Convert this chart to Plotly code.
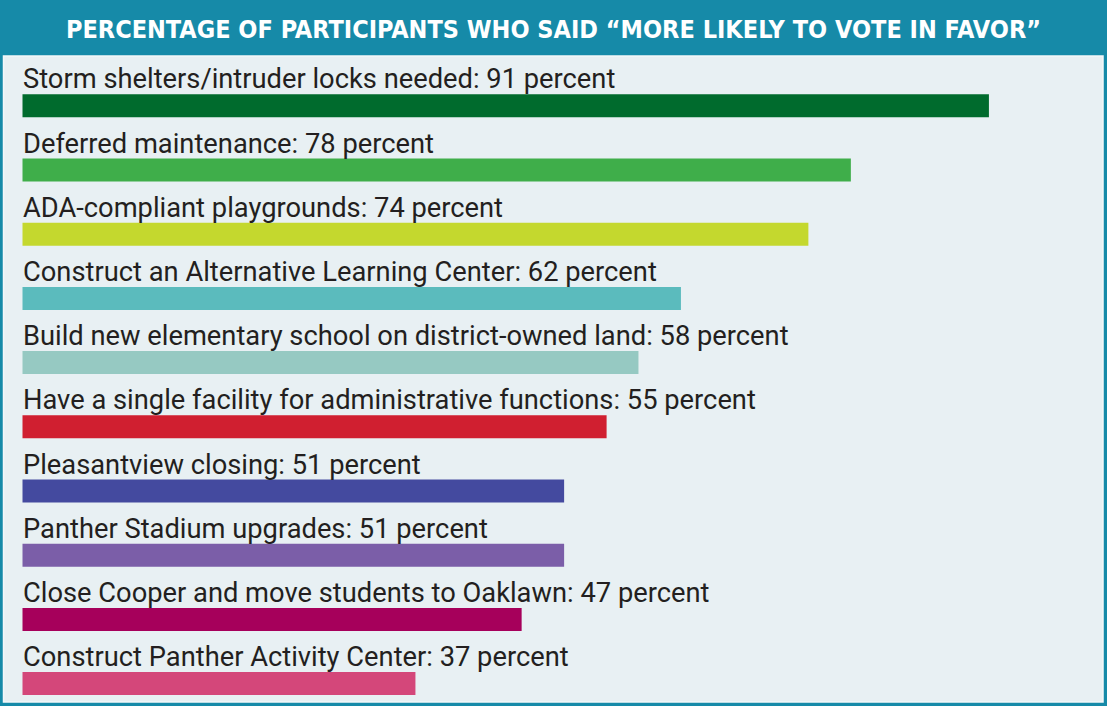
import plotly.graph_objects as go

categories = [
    "Storm shelters/intruder locks needed",
    "Deferred maintenance",
    "ADA-compliant playgrounds",
    "Construct an Alternative Learning Center",
    "Build new elementary school on district-owned land",
    "Have a single facility for administrative functions",
    "Pleasantview closing",
    "Panther Stadium upgrades",
    "Close Cooper and move students to Oaklawn",
    "Construct Panther Activity Center",
]
percents = [91, 78, 74, 62, 58, 55, 51, 51, 47, 37]
bar_colors = ["#006b2d", "#3fae4a", "#c4d82e", "#5bbbbd", "#96c9c2",
              "#d01f30", "#444a9f", "#7b5ea8", "#a6005b", "#d4477a"]
title_text = "PERCENTAGE OF PARTICIPANTS WHO SAID \u201cMORE LIKELY TO VOTE IN FAVOR\u201d"

W, H = 1107, 706
px_per_unit = 10.62
x0_px = 22.5
row_px = 64.2
first_center_px = 105.8
bar_h_px = 23

idx = list(range(len(categories)))

x_min = -x0_px / px_per_unit
x_max = (W - x0_px) / px_per_unit
y_top = -first_center_px / row_px
y_bot = (H - first_center_px) / row_px

fig = go.Figure()
fig.add_trace(go.Bar(
    x=percents, y=idx, orientation="h",
    marker=dict(color=bar_colors, line=dict(width=0)),
    width=bar_h_px / row_px,
    hoverinfo="skip",
))

annotations = []
for i, (c, p) in enumerate(zip(categories, percents)):
    annotations.append(dict(
        x=0, y=i, xref="x", yref="y", xanchor="left", yanchor="bottom",
        text=f"{c}: {p} percent", showarrow=False,
        font=dict(family="Roboto, Arial, sans-serif", size=27.3, color="#231f20"),
        yshift=bar_h_px / 2 - 3, xshift=-2,
    ))
annotations.append(dict(
    x=0.5, y=1 - 30 / H, xref="paper", yref="paper", xanchor="center", yanchor="middle",
    text=f"<b>{title_text}</b>", showarrow=False,
    font=dict(family="DejaVu Sans Condensed, sans-serif", size=25, color="#ffffff"),
))

fig.update_layout(
    width=W, height=H,
    margin=dict(l=0, r=0, t=0, b=0),
    paper_bgcolor="#168aa8",
    plot_bgcolor="rgba(0,0,0,0)",
    showlegend=False,
    xaxis=dict(range=[x_min, x_max], visible=False, fixedrange=True),
    yaxis=dict(range=[y_bot, y_top], visible=False, fixedrange=True),
    shapes=[dict(
        type="rect", xref="paper", yref="paper",
        x0=3.5 / W, x1=1103 / W, y0=1 - 702 / H, y1=1 - 56 / H,
        fillcolor="#e8f0f3", line=dict(color="#f2f7f9", width=1.5), layer="below",
    )],
    annotations=annotations,
)

fig.write_html("out.html")
